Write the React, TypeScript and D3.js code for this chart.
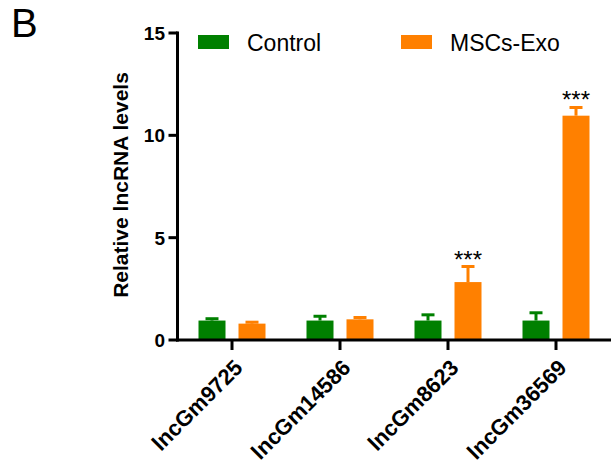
import React from "react";
import * as d3 from "d3";

const categories = ["lncGm9725", "lncGm14586", "lncGm8623", "lncGm36569"];
const seriesNames = ["Control", "MSCs-Exo"];
const controlMeans = [0.95, 0.95, 0.95, 0.95];
const controlErrors = [0.09, 0.21, 0.28, 0.38];
const exoMeans = [0.8, 1.01, 2.83, 10.96];
const exoErrors = [0.07, 0.09, 0.76, 0.4];
const significance = ["", "", "***", "***"];
const yTicks = [0, 5, 10, 15];

const colors: Record<string, string> = { Control: "#008000", "MSCs-Exo": "#FF8000" };
const FONT = "'Liberation Sans', Arial, Helvetica, sans-serif";

export default function App() {
  const W = 611, H = 467;
  const x0 = 177.5, x1 = 610;
  const x = d3.scaleBand<string>().domain(categories).range([x0 + 0.5, x0 + 0.5 + 432]).padding(0);
  const xs = d3.scaleBand<string>().domain(seriesNames).range([-33.5, 33.5]).paddingInner(0.325).paddingOuter(0);
  const y = d3.scaleLinear().domain([0, 15]).range([340, 33]);

  const data = categories.map((c, i) => ({
    cat: c,
    vals: [
      { s: "Control", m: controlMeans[i], e: controlErrors[i] },
      { s: "MSCs-Exo", m: exoMeans[i], e: exoErrors[i] },
    ],
    sig: significance[i],
  }));
  const bw = xs.bandwidth();
  const capW = 13;

  return (
    <svg width={W} height={H} style={{ position: "absolute", left: 0, top: 0, background: "#fff" }}
      fontFamily={FONT}>
      <rect x={0} y={0} width={W} height={H} fill="#fff" />
      <text x={11} y={37} fontSize={40} fill="#000">B</text>

      {/* bars */}
      {data.map((d) => {
        const cx = (x(d.cat) as number) + x.bandwidth() / 2;
        const exo = d.vals[1];
        return (
          <g key={d.cat}>
            {d.vals.map((v) => {
              const bx = cx + (xs(v.s) as number);
              const bc = bx + bw / 2;
              const top = y(v.m + v.e);
              return (
                <g key={v.s}>
                  <rect x={bx} y={y(v.m)} width={bw} height={y(0) - y(v.m)} fill={colors[v.s]} />
                  <line x1={bc} x2={bc} y1={y(v.m)} y2={top} stroke={colors[v.s]} strokeWidth={3} />
                  <line x1={bc - capW / 2} x2={bc + capW / 2} y1={top} y2={top} stroke={colors[v.s]} strokeWidth={3} />
                </g>
              );
            })}
            {d.sig && (
              <text x={cx + (xs("MSCs-Exo") as number) + bw / 2} y={y(exo.m + exo.e) + 1}
                textAnchor="middle" fontSize={24} fill="#000">{d.sig}</text>
            )}
          </g>
        );
      })}

      {/* y axis */}
      <line x1={x0} x2={x0} y1={y(15) - 1.5} y2={y(0) + 1.5} stroke="#000" strokeWidth={3} />
      {yTicks.map((t) => (
        <g key={t}>
          <line x1={x0 - 9} x2={x0} y1={y(t)} y2={y(t)} stroke="#000" strokeWidth={3} />
          <text x={165} y={y(t)} dy="0.36em" textAnchor="end" fontSize={19} fontWeight="bold" fill="#000">{t}</text>
        </g>
      ))}
      {/* x axis */}
      <line x1={x0 - 1.5} x2={x1 + 1} y1={y(0)} y2={y(0)} stroke="#000" strokeWidth={3} />
      {categories.map((c) => {
        const cx = (x(c) as number) + x.bandwidth() / 2;
        return (
          <g key={c}>
            <line x1={cx} x2={cx} y1={y(0)} y2={y(0) + 10} stroke="#000" strokeWidth={3} />
            <text transform={`translate(${cx + 12},${369}) rotate(-45)`} textAnchor="end"
              fontSize={22} fontWeight="bold" fill="#000">{c}</text>
          </g>
        );
      })}

      {/* y label */}
      <text transform={`translate(128,185) rotate(-90)`} textAnchor="middle" fontSize={21} fontWeight="bold" fill="#000">
        Relative lncRNA levels
      </text>

      {/* legend */}
      <rect x={198} y={35} width={31} height={14} fill={colors["Control"]} />
      <text x={247} y={51} fontSize={23} fill="#000">Control</text>
      <rect x={401} y={35} width={31} height={14} fill={colors["MSCs-Exo"]} />
      <text x={450} y={51} fontSize={23} fill="#000">MSCs-Exo</text>
    </svg>
  );
}
